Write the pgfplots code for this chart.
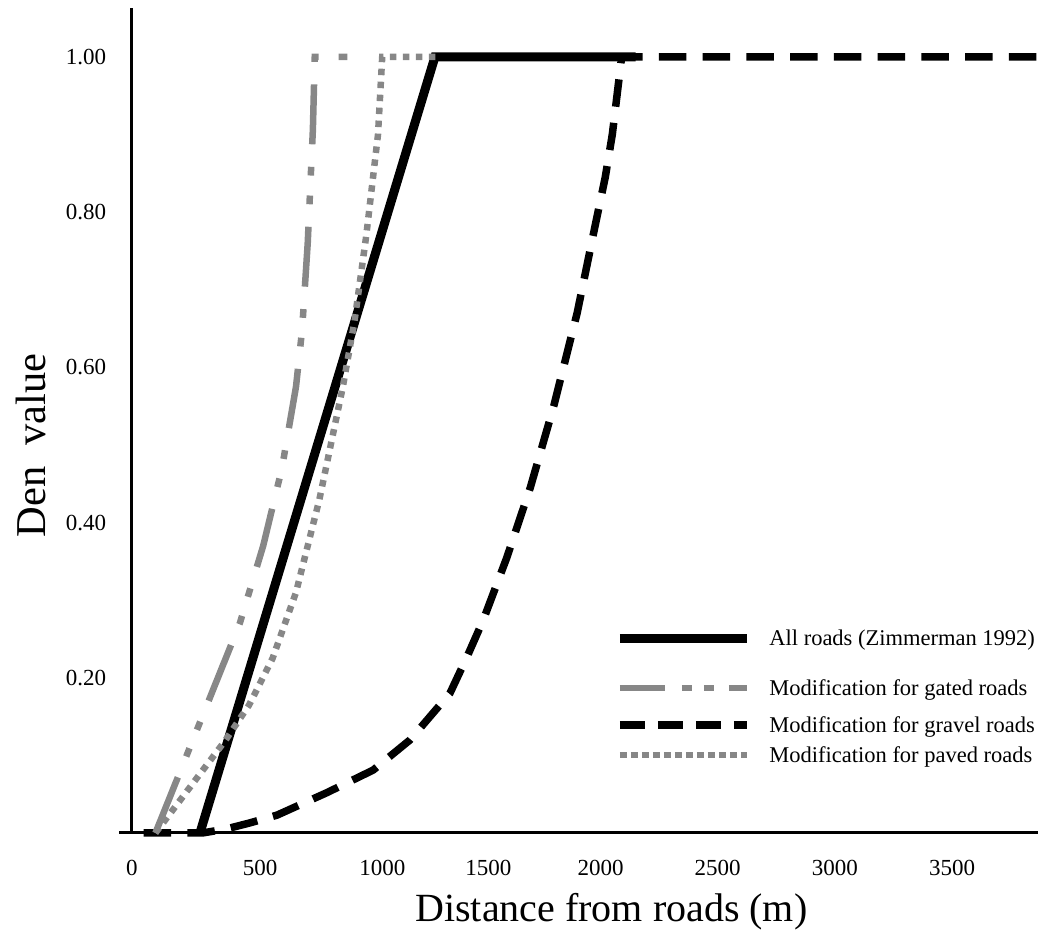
\documentclass[border=0pt]{standalone}
\usepackage{pgfplots}
\pgfplotsset{compat=1.18}
\usepackage{fontspec}
\setmainfont{Liberation Serif}
\definecolor{midgray}{RGB}{135,135,135}

\begin{document}
\begin{tikzpicture}
\path[use as bounding box] (-52.8pt,-40.4pt) rectangle (365.2pt,333.2pt);
\begin{axis}[
    at={(0pt,0pt)}, anchor=south west,
    scale only axis,
    width=362.4pt, height=330pt,
    xmin=0, xmax=3867, ymin=0, ymax=1.063,
    axis x line*=bottom, axis y line*=left,
    axis line style={line width=1.2pt},
    xtick={0,500,...,3500},
    xticklabels={0,\hspace{8.8pt}500,\hspace{12.8pt}1000,\hspace{4pt}1500,2000,2500,3000,3500},
    ytick={0.2,0.4,0.6,0.8,1.0},
    yticklabels={0.20,0.40,0.60,0.80,1.00},
    major tick length=0pt,
    extra y ticks={0}, extra y tick labels={},
    extra y tick style={major tick length=5pt, tick align=outside, tick style={line width=1.2pt, black}},
    tick label style={font=\fontsize{9.2}{11}\selectfont},
    xticklabel style={yshift=-7.3pt},
    yticklabel style={xshift=-6.8pt},
    clip=false,
    xlabel={Distance from roads (m)},
    xlabel style={font=\fontsize{16}{19}\selectfont, at={(axis description cs:0.303,0)}, anchor=base west, yshift=-35.6pt},
    ylabel={Den\ \ value},
    ylabel style={font=\fontsize{17}{20}\selectfont, at={(axis description cs:-0.112,0.47)}, anchor=center},
    legend style={draw=none, fill=none, at={(axis description cs:0.533,0.249)}, anchor=north west,
        inner sep=0pt, row sep=0pt, column sep=7pt, font=\fontsize{9}{11}\selectfont,
        nodes={inner sep=0pt, outer sep=0pt}, cells={anchor=base west}},
    roadkey/.style n args={3}{legend image code/.code={
        \draw[##1] (0pt,3pt) -- (51pt,3pt);
        \path[draw=none, fill=none] (0pt,-#2) rectangle (1pt,#3);}},
]

% gravel roads
\addplot[black, line width=3pt, dash pattern=on 11pt off 6.5pt, forget plot] coordinates {
(50,0) (300,0) (400,0.005) (503,0.013) (619,0.023) (832,0.052) (1029,0.081) (1187,0.12)
(1357,0.18) (1430,0.227) (1500,0.275) (1600,0.355) (1700,0.445) (1800,0.55) (1900,0.67)
(1975,0.78) (2020,0.845) (2050,0.9) (2090,1.0) (3867,1.0)};

% all roads
\addplot[black, line width=3.6pt, forget plot] coordinates {
(290,0) (1293,1.0) (2150,1.0)};

% gated roads
\addplot[midgray, line width=2.6pt, dash pattern=on 24pt off 9pt on 3.5pt off 8pt on 3.5pt off 9pt, forget plot] coordinates {
(100,0) (300,0.15) (460,0.27) (560,0.37) (640,0.47) (700,0.575) (726,0.648) (750,0.76)
(772,0.906) (780,1.0) (1000,1.0)};

% paved roads
\addplot[midgray, line width=2.6pt, dash pattern=on 2.6pt off 2.6pt, forget plot] coordinates {
(100,0) (200,0.04) (300,0.08) (400,0.12) (500,0.165) (600,0.225) (700,0.31) (800,0.43)
(900,0.575) (950,0.66) (1000,0.77) (1050,0.9) (1068,1.0) (1300,1.0)};

\addlegendimage{roadkey={}{13pt}{7pt}, black, line width=3.6pt}
\addlegendentry{All roads (Zimmerman 1992)}
\addlegendimage{roadkey={}{7.8pt}{7pt}, midgray, line width=2.6pt, dash pattern=on 18pt off 6.8pt on 4pt off 4.8pt on 4pt off 6pt}
\addlegendentry{Modification for gated roads}
\addlegendimage{roadkey={}{5pt}{7pt}, black, line width=3pt, dash pattern=on 10pt off 5.2pt}
\addlegendentry{Modification for gravel roads}
\addlegendimage{roadkey={}{2.5pt}{7pt}, midgray, line width=2.6pt, dash pattern=on 2.8pt off 1.6pt}
\addlegendentry{Modification for paved roads}
\end{axis}
\end{tikzpicture}
\end{document}
